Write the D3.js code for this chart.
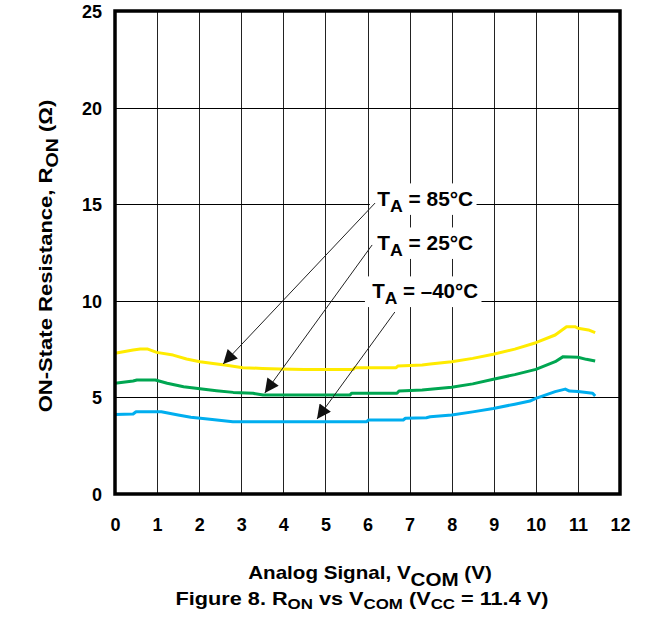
<!DOCTYPE html>
<html><head><meta charset="utf-8">
<script src="https://cdn.jsdelivr.net/npm/d3@7"></script>
<style>
html,body{margin:0;padding:0;background:#fff;}
svg text{font-family:"Liberation Sans",Arial,sans-serif;font-weight:bold;fill:#000;}
</style></head>
<body><svg id="c" width="669" height="624"></svg>
<script>
const xTicks = [0,1,2,3,4,5,6,7,8,9,10,11,12];
const yTicks = [0,5,10,15,20,25];

const vHot  = [0,0.43,0.6,0.78,0.99,1.38,1.7,2.02,2.33,2.61,3.04,3.5,3.92,4.5,5.0,5.66,5.7,6.68,6.72,7.3,7.49,8.0,8.5,8.99,9.5,10.0,10.46,10.73,10.93,11.0,11.25,11.41];
const rHot  = [7.28,7.45,7.5,7.5,7.33,7.19,6.99,6.85,6.76,6.68,6.54,6.5,6.47,6.45,6.45,6.45,6.54,6.54,6.62,6.68,6.73,6.85,7.02,7.23,7.5,7.83,8.23,8.66,8.66,8.58,8.49,8.35];

const vRoom = [0,0.43,0.52,0.96,1.24,1.63,2.02,2.41,2.81,3.28,3.52,3.92,4.5,5.0,5.58,5.62,6.7,6.75,7.3,7.49,8.0,8.5,8.99,9.5,10.0,10.46,10.65,11.0,11.2,11.41];
const rRoom = [5.73,5.85,5.9,5.9,5.73,5.55,5.45,5.35,5.26,5.21,5.12,5.12,5.12,5.12,5.12,5.21,5.21,5.33,5.38,5.42,5.52,5.7,5.94,6.18,6.45,6.85,7.11,7.08,6.97,6.88];

const vCold = [0,0.43,0.5,1.1,1.5,1.8,2.2,2.8,3.5,4.0,4.5,5.0,5.5,5.98,6.02,6.85,6.9,7.4,7.49,8.0,8.5,8.99,9.5,9.86,10.0,10.46,10.7,10.8,11.0,11.35,11.41];
const rCold = [4.12,4.14,4.26,4.26,4.09,3.97,3.88,3.74,3.74,3.74,3.74,3.74,3.74,3.74,3.83,3.83,3.92,3.95,4.0,4.09,4.25,4.43,4.65,4.81,4.95,5.3,5.43,5.33,5.3,5.21,5.07];

const seriesNames = ["85°C","25°C","–40°C"];
const seriesColors = ["#FFEB00","#00A651","#00AEEF"];
// annotation: label anchor (V, Ω), arrow start, arrow tip
const labelPos = [[6.23,15.27],[6.23,12.99],[6.11,10.5]];
const arrowFrom = [[6.18,15.06],[6.11,12.89],[6.65,9.42]];
const arrowTo = [[2.57,6.73],[3.56,5.23],[4.80,3.88]];

const svg = d3.select("#c");
const L=115, R=620, T=11, B=494;
const x = d3.scaleLinear().domain([0,12]).range([L,R]);
const y = d3.scaleLinear().domain([0,25]).range([B,T]);

function stretch(gSel, tSel, base, target){
  const w = tSel.node().getComputedTextLength();
  gSel.attr("transform", base + ` scale(${(target/w).toFixed(3)},1)`);
}

// grid
const g = svg.append("g");
g.selectAll(".vg").data(xTicks.slice(1,-1)).enter().append("line")
  .attr("x1",d=>Math.round(x(d))+0.5).attr("x2",d=>Math.round(x(d))+0.5)
  .attr("y1",T).attr("y2",B).attr("stroke","#222").attr("stroke-width",1);
g.selectAll(".hg").data(yTicks.slice(1,-1)).enter().append("line")
  .attr("y1",d=>Math.round(y(d))+0.5).attr("y2",d=>Math.round(y(d))+0.5)
  .attr("x1",L).attr("x2",R).attr("stroke","#000").attr("stroke-width",1);

// series
const data = [[vHot,rHot],[vRoom,rRoom],[vCold,rCold]];
const line = d3.line().x(d=>x(d[0])).y(d=>y(d[1]));
data.forEach((s,i)=>{
  const pts = s[0].map((v,j)=>[v,s[1][j]]);
  svg.append("path").datum(pts).attr("d",line).attr("fill","none")
    .attr("stroke",seriesColors[i]).attr("stroke-width",3).attr("stroke-linejoin","round");
});

// frame
svg.append("rect").attr("x",L).attr("y",T).attr("width",R-L).attr("height",B-T)
  .attr("fill","none").attr("stroke","#000").attr("stroke-width",3.5);

// axes tick labels
const xAxis = d3.axisBottom(x).tickValues(xTicks).tickSize(0).tickPadding(0);
const xa = svg.append("g").attr("transform",`translate(0,${B})`).call(xAxis);
xa.select(".domain").remove();
xa.selectAll("text").attr("y",37).attr("dy",0).style("font-size","18px")
  .style("font-family","Liberation Sans, Arial").style("font-weight","bold");
const yAxis = d3.axisLeft(y).tickValues(yTicks).tickSize(0).tickPadding(0);
const ya = svg.append("g").attr("transform",`translate(${L},0)`).call(yAxis);
ya.select(".domain").remove();
ya.selectAll("text").attr("x",-13).attr("dy","0.36em").style("font-size","18px")
  .style("font-family","Liberation Sans, Arial").style("font-weight","bold");

// arrows
const defs = svg.append("defs");
defs.append("marker").attr("id","ah").attr("viewBox","0 0 10 10").attr("refX",10).attr("refY",5)
  .attr("markerWidth",19).attr("markerHeight",14).attr("markerUnits","userSpaceOnUse")
  .attr("orient","auto").append("path").attr("d","M0,0 L10,5 L0,10 z").attr("fill","#111");

// labels with white boxes
const labelW = [96,96,106];
labelPos.forEach((p,i)=>{
  const lg = svg.append("g");
  const t = lg.append("text").attr("x",0).attr("y",7).style("font-size","20px");
  t.append("tspan").text("T");
  t.append("tspan").attr("dy",6).style("font-size","17px").text("A");
  t.append("tspan").attr("dy",-6).text(" = "+seriesNames[i]);
  stretch(lg, t, `translate(${x(p[0])},${y(p[1])})`, labelW[i]);
  const bb = t.node().getBBox();
  lg.insert("rect", () => t.node()).attr("x",bb.x-7).attr("y",bb.y-4).attr("width",bb.width+10).attr("height",bb.height+3)
    .attr("fill","#fff");
});
arrowFrom.forEach((f,i)=>{
  svg.append("line").attr("x1",x(f[0])).attr("y1",y(f[1])).attr("x2",x(arrowTo[i][0])).attr("y2",y(arrowTo[i][1]))
    .attr("stroke","#222").attr("stroke-width",1).attr("marker-end","url(#ah)");
});

// axis titles
const ytg = svg.append("g");
const yt = ytg.append("text").attr("text-anchor","middle").style("font-size","18px");
yt.append("tspan").text("ON-State Resistance,  R");
yt.append("tspan").attr("dy",6).style("font-size","16px").text("ON");
yt.append("tspan").attr("dy",-6).text(" (Ω)");
stretch(ytg, yt, "translate(52,256) rotate(-90)", 313);

const xtg = svg.append("g");
const xt = xtg.append("text").attr("text-anchor","middle").style("font-size","18px");
xt.append("tspan").text("Analog Signal, V");
xt.append("tspan").attr("dy",7).style("font-size","18px").text("COM");
xt.append("tspan").attr("dy",-7).text(" (V)");
stretch(xtg, xt, "translate(370,579)", 244);

const ctg = svg.append("g");
const ct = ctg.append("text").attr("text-anchor","middle").style("font-size","18px");
ct.append("tspan").text("Figure 8. R");
ct.append("tspan").attr("dy",4).style("font-size","14px").text("ON");
ct.append("tspan").attr("dy",-4).text(" vs V");
ct.append("tspan").attr("dy",4).style("font-size","14px").text("COM");
ct.append("tspan").attr("dy",-4).text(" (V");
ct.append("tspan").attr("dy",4).style("font-size","14px").text("CC");
ct.append("tspan").attr("dy",-4).text(" = 11.4 V)");
stretch(ctg, ct, "translate(362,605)", 373);
</script></body></html>
